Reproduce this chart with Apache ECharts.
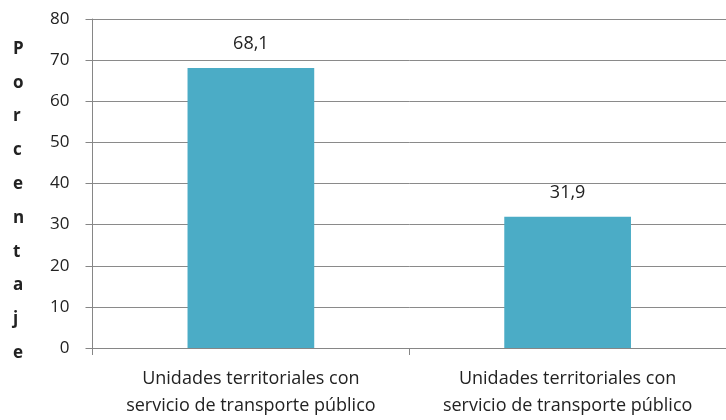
<!DOCTYPE html>
<html><head><meta charset="utf-8">
<script src="https://cdn.jsdelivr.net/npm/echarts@6/dist/echarts.min.js"></script>
<style>html,body{margin:0;padding:0;background:#fff}#c{width:726px;height:420px}</style>
</head><body><div id="c"></div>
<script>
const categories = ["Unidades territoriales con\nservicio de transporte público", "Unidades territoriales con\nservicio de transporte público"];
const values = [68.1, 31.9];
const yTicks = [0, 10, 20, 30, 40, 50, 60, 70, 80];
const yTitle = "Porcentaje";

const chart = echarts.init(document.getElementById('c'), null, {renderer: 'canvas'});
const font = "'Open Sans', 'Noto Sans', sans-serif";
chart.setOption({
  animation: false,
  backgroundColor: '#fff',
  grid: {left: 92.5, top: 19, width: 643.4, height: 329},
  xAxis: {
    type: 'category', data: categories,
    axisLine: {lineStyle: {color: '#868686'}},
    axisTick: {show: true, interval: 0, length: 7, lineStyle: {color: '#868686'}},
    axisLabel: {interval: 0, hideOverlap: false, color: '#222', fontSize: 18, fontFamily: font, lineHeight: 27, margin: 17}
  },
  yAxis: {
    type: 'value', min: yTicks[0], max: yTicks[yTicks.length-1], interval: 10,
    axisLine: {show: true, lineStyle: {color: '#868686'}},
    axisTick: {show: true, length: 7, lineStyle: {color: '#868686'}},
    splitLine: {lineStyle: {color: '#8a8a8a'}},
    axisLabel: {color: '#222', fontSize: 17, fontFamily: font, margin: 23,
      formatter: v => yTicks.includes(v) ? String(v) : ''}
  },
  graphic: [{
    type: 'text', left: 13, top: 32,
    style: {text: yTitle.split('').join('\n'), font: "bold 17px " + font, fill: '#222', lineHeight: 33.8, textAlign: 'left'}
  }],
  series: [{
    type: 'bar', data: values, barWidth: 126.7,
    itemStyle: {color: '#4BACC6'},
    label: {show: true, position: 'top', distance: 15, color: '#222', fontSize: 18, fontFamily: font,
      formatter: p => String(p.value).replace('.', ',')}
  }]
});
</script></body></html>
